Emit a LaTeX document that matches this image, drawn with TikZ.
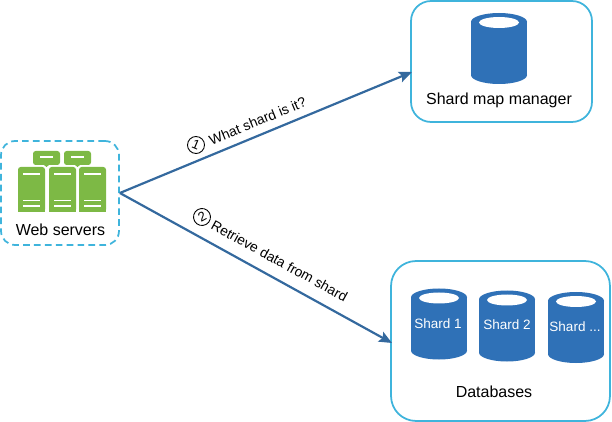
\documentclass[tikz,border=0pt]{standalone}
\usepackage{fontspec}
\setmainfont{Liberation Sans}
\usetikzlibrary{arrows.meta}

\definecolor{boxcyan}{HTML}{3FB4DC}
\definecolor{dbblue}{HTML}{2F71B7}
\definecolor{linkblue}{HTML}{34699E}
\definecolor{srvgreen}{HTML}{7DB945}

\tikzset{
    groupbox/.style={draw=boxcyan, line width=1pt, fill=white},
    label/.style={font=\fontsize{9.1}{11}\selectfont, inner sep=0pt},
    shardlabel/.style={font=\fontsize{7.7}{10}\selectfont, inner sep=0pt, text=white},
    linklabel/.style={font=\fontsize{7.9}{10}\selectfont, inner sep=0pt},
    stepmark/.style={draw, circle, line width=0.5pt, minimum size=0.34cm, inner sep=0pt, font=\fontsize{7.5}{9}\selectfont},
    link/.style={draw=linkblue, line width=1.25pt, -{Stealth[length=0.26cm, width=0.22cm, inset=0.05cm]}},
    pics/dbcyl/.style={code={
        \fill[dbblue] (-28,-26.5) rectangle (28,26.5);
        \fill[dbblue] (0,-26.5) ellipse [x radius=28, y radius=9];
        \fill[dbblue] (0,26.5) ellipse [x radius=28, y radius=9];
        \fill[white] (0,-26) ellipse [x radius=20, y radius=5.5];
    }},
    pics/server/.style={code={
        \fill[srvgreen, rounded corners=1.5] (0,45) -- (0,0) -- (27,0) -- (27,45) -- cycle;
        \fill[srvgreen] (0,40) rectangle (27,45);
        \draw[white, line width=0.7pt] (5,7) -- (22,7);
        \draw[white, line width=0.7pt] (5,33.5) -- (22,33.5);
        \draw[white, line width=0.7pt] (5,39) -- (22,39);
    }},
    pics/bubble/.style={code={
        \fill[srvgreen, rounded corners=1.5] (0,0) rectangle (27,14);
        \fill[srvgreen] (11,14) -- (16,14) -- (13.5,16) -- cycle;
        \draw[white, line width=0.7pt] (7,6) -- (20,6);
    }}
}

\begin{document}
\begin{tikzpicture}[x=0.02cm, y=-0.02cm]
    \useasboundingbox (0,0) rectangle (612,422);

    % web servers
    \node (web) [draw=boxcyan, line width=1pt, dash pattern=on 3.8pt off 2.4pt, rounded corners=0.28cm, minimum width=2.36cm, minimum height=2.08cm] at (60,193) {};
    \pic at (33,151) {bubble};
    \pic at (64,151) {bubble};
    \pic at (18,167) {server};
    \pic at (49,167) {server};
    \pic at (79,167) {server};
    \node (webtext) [label] at (60.5,230) {Web servers};

    % shard map manager
    \node (map) [groupbox, rounded corners=0.4cm, minimum width=3.62cm, minimum height=2.42cm] at (501.5,61.5) {};
    \pic at (499,48.5) {dbcyl};
    \node (maptext) [label] at (499,100) {Shard map manager};

    % databases
    \node (db) [groupbox, rounded corners=0.5cm, minimum width=4.38cm, minimum height=3.2cm] at (500.5,341) {};
    \pic at (439,324) {dbcyl};
    \pic at (507,326) {dbcyl};
    \pic at (576,327.5) {dbcyl};
    \node (shardone) [shardlabel] at (438,324) {Shard 1};
    \node (shardtwo) [shardlabel] at (507,325) {Shard 2};
    \node (shardmore) [shardlabel] at (575,327) {Shard ...};
    \node (dbtext) [label] at (494,392) {Databases};

    % links
    \coordinate (mapin) at (412,72);
    \coordinate (dbin) at (392,343);
    \draw[link] (web.east) -- (mapin);
    \draw[link] (web.east) -- (dbin);

    \node (markone) [stepmark, rotate=-22.5] at (196,145) {1};
    \node (asktext) [linklabel, rotate=22.5] at (257.5,121) {What shard is it?};
    \node (marktwo) [stepmark, rotate=28.8] at (202,217) {2};
    \node (gettext) [linklabel, rotate=-28.8] at (279.5,261) {Retrieve data from shard};
\end{tikzpicture}
\end{document}
